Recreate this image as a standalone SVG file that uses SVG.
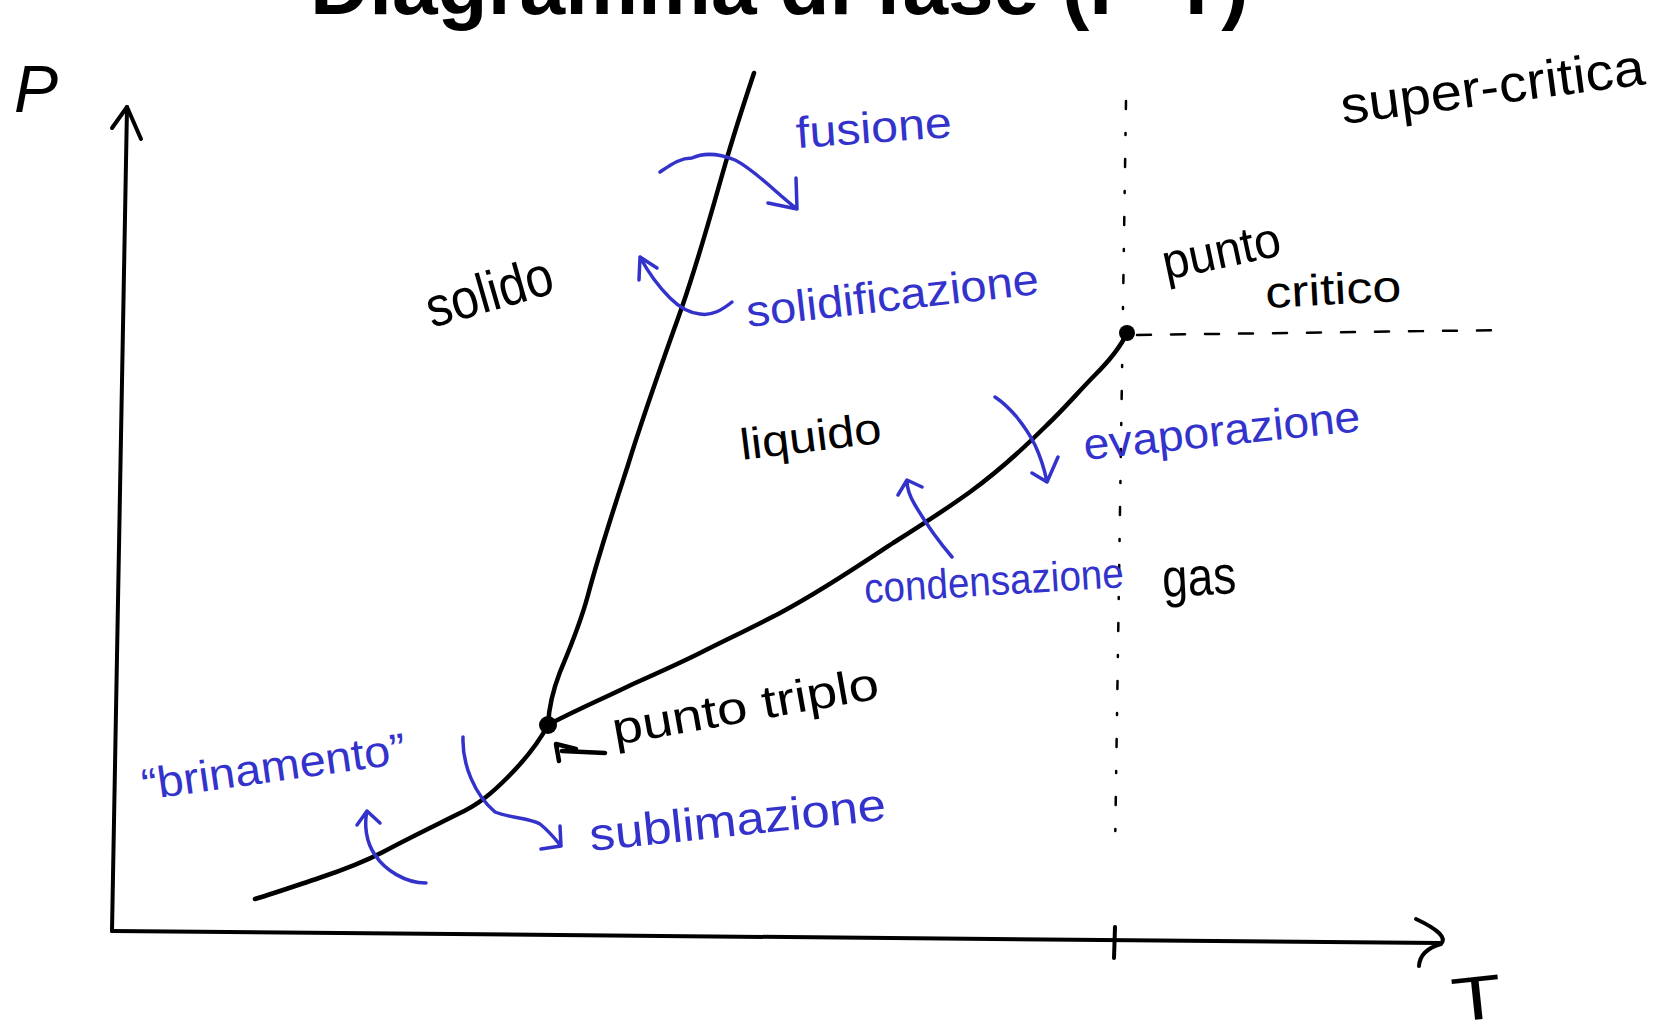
<svg xmlns="http://www.w3.org/2000/svg" width="1669" height="1034" viewBox="0 0 1669 1034">
<style>
.ink{fill:none;stroke:#000;stroke-width:4.5;stroke-linecap:round;stroke-linejoin:round}
.axis{fill:none;stroke:#000;stroke-width:4;stroke-linecap:round;stroke-linejoin:round}
.blue{fill:none;stroke:#3333cc;stroke-width:3.5;stroke-linecap:round;stroke-linejoin:round}
.dash{fill:none;stroke:#000;stroke-width:2.5;stroke-linecap:round}
.bl{font-family:"Liberation Sans",Arial,sans-serif;fill:#000}
.bb{font-family:"Liberation Sans",Arial,sans-serif;fill:#3333cc}
.title{font-family:"Liberation Sans",Arial,sans-serif;font-weight:bold;fill:#000}
</style>
<rect width="1669" height="1034" fill="#fff"/>
<text class="title" x="310" y="14" font-size="82">Diagramma di fase (P-T)</text>

<g id="axes">
  <path class="axis" d="M127,107 L112,931"/>
  <path class="axis" d="M112,128 L127,107 L141,139"/>
  <path class="axis" d="M112,931 L1440,943"/>
  <path class="axis" d="M1416,919 Q1450,935 1441,944 Q1420,950 1419,966"/>
  <path class="axis" d="M1115,927 L1114,958"/>
  <text class="bl" x="14" y="112" font-size="66" font-style="italic">P</text>
  <text class="bl" transform="translate(1454,1022) rotate(-6)" font-size="62" textLength="50" lengthAdjust="spacingAndGlyphs">T</text>
</g>

<g id="guides">
  <path class="dash" d="M1126,101 L1115,852" stroke-dasharray="8 24 2 24"/>
  <path class="dash" d="M1137,335 L1506,330" stroke-dasharray="14 20"/>
</g>

<g id="connectors">
  <path id="fusion-line" class="ink" d="M548,725 C549,705 553,690 560,672 C570,648 580,625 588,595 C600,550 615,505 628,465 C645,410 665,355 682,307 C700,255 712,210 725,165 C735,130 745,100 754,73"/>
  <path id="vapor-line" class="ink" d="M548,725 C570,713 600,700 633,684 C660,672 680,663 700,653 C730,638 755,626 780,613 C820,592 860,565 893,543 C920,526 945,510 970,492 C1000,470 1025,447 1047,425 C1065,408 1080,390 1095,375 C1110,360 1120,348 1127,333"/>
  <path id="sublim-line" class="ink" d="M548,725 C540,740 525,760 507,778 C492,793 478,805 458,814 C430,828 405,840 383,852 C360,864 340,871 319,878 C295,886 275,893 255,899"/>
  <path id="triple-pointer" class="ink" d="M605,753 L562,751 M556,744 L559,761 M556,744 L576,749"/>
  <path id="arr-fusione" class="blue" d="M660,172 C672,164 680,158 692,158 C705,152 720,154 735,160 C755,170 775,192 797,209 M796,178 L797,209 L768,203"/>
  <path id="arr-solid" class="blue" d="M732,302 C722,310 712,316 700,314 C690,313 680,308 670,298 C658,286 648,272 640,257 M639,280 L640,257 L657,268"/>
  <path id="arr-cond" class="blue" d="M952,557 C940,543 925,522 915,505 C909,495 907,488 907,481 M898,495 L907,480 L922,487"/>
  <path id="arr-evap" class="blue" d="M995,397 C1010,407 1025,425 1035,445 C1042,460 1045,472 1047,482 M1032,473 L1047,482 L1058,457"/>
  <path id="arr-sublim" class="blue" d="M463,737 C462,765 475,795 495,812 C510,818 530,818 540,824 C550,832 556,840 561,846 M541,849 L561,846 L560,826"/>
  <path id="arr-brin" class="blue" d="M426,883 C405,883 385,870 375,855 C366,842 364,825 367,811 M357,825 L367,811 L380,823"/>
</g>

<g id="points">
  <circle cx="548" cy="725" r="9" fill="#000"/>
  <circle cx="1127" cy="333" r="8" fill="#000"/>
</g>

<g id="labels">
  <text class="bl" transform="translate(432,328) rotate(-16)" font-size="56" textLength="130" lengthAdjust="spacingAndGlyphs">solido</text>
  <text class="bl" transform="translate(742,460) rotate(-7)" font-size="44" textLength="142" lengthAdjust="spacingAndGlyphs">liquido</text>
  <text class="bl" transform="translate(1163,597) rotate(-3)" font-size="54" textLength="74" lengthAdjust="spacingAndGlyphs">gas</text>
  <text class="bl" transform="translate(1166,280) rotate(-12)" font-size="50" textLength="120" lengthAdjust="spacingAndGlyphs">punto</text>
  <text class="bl" transform="translate(1266,308) rotate(-3)" font-size="44" textLength="136" lengthAdjust="spacingAndGlyphs">critico</text>
  <text class="bl" transform="translate(1343,124) rotate(-7.5)" font-size="52" textLength="306" lengthAdjust="spacingAndGlyphs">super-critica</text>
  <text class="bl" transform="translate(615,745) rotate(-10)" font-size="46" textLength="270" lengthAdjust="spacingAndGlyphs">punto triplo</text>
  <text class="bb" transform="translate(797,148) rotate(-4)" font-size="44" textLength="156" lengthAdjust="spacingAndGlyphs">fusione</text>
  <text class="bb" transform="translate(748,327) rotate(-6.5)" font-size="44" textLength="294" lengthAdjust="spacingAndGlyphs">solidificazione</text>
  <text class="bb" transform="translate(1085,460) rotate(-6)" font-size="44" textLength="278" lengthAdjust="spacingAndGlyphs">evaporazione</text>
  <text class="bb" transform="translate(865,603) rotate(-3.5)" font-size="42" textLength="260" lengthAdjust="spacingAndGlyphs">condensazione</text>
  <text class="bb" transform="translate(591,851) rotate(-6)" font-size="46" textLength="298" lengthAdjust="spacingAndGlyphs">sublimazione</text>
  <text class="bb" transform="translate(144,800) rotate(-8)" font-size="44" textLength="266" lengthAdjust="spacingAndGlyphs">“brinamento”</text>
</g>
</svg>
